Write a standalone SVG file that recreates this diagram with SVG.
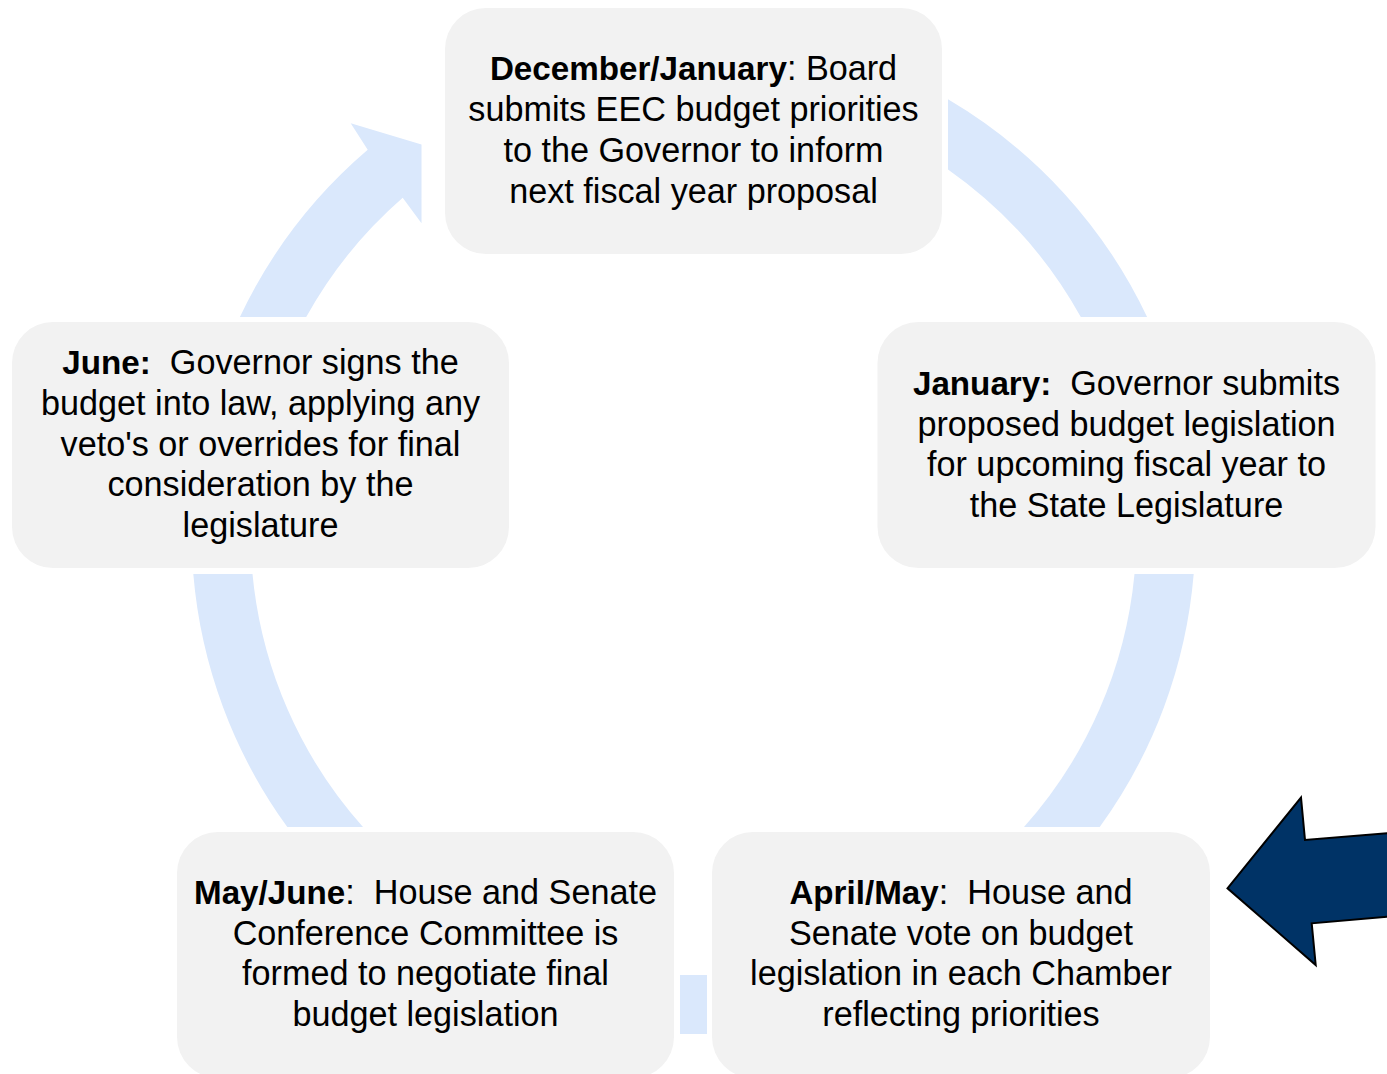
<svg xmlns="http://www.w3.org/2000/svg" width="1387" height="1074" viewBox="0 0 1387 1074">
  <style>
    .box { fill: #F2F2F2; }
    .ring { fill: #DAE8FC; }
    .label { font-family: "Liberation Sans", Arial, sans-serif; font-size: 34.2px; fill: #000000; text-anchor: middle; white-space: pre; }
    .b { font-weight: bold; font-size: 33.2px; }
    .pointer { fill: #003366; stroke: #000000; stroke-width: 2; stroke-linejoin: miter; }
  </style>

  <!-- Cycle ring pieces: circle centred at (693.5, 532), outer r 502, inner r 443 -->
  <g id="connectors">
    <!-- top box -> January -->
    <path class="ring" d="M 948,99.3 A 502 502 0 0 1 1147.1,317 L 1080.8,317 A 443 443 0 0 0 948,169.4 Z"/>
    <!-- January -> April/May -->
    <path class="ring" d="M 1193.7,574 A 502 502 0 0 1 1099.7,827 L 1024,827 A 443 443 0 0 0 1134.5,574 Z"/>
    <!-- April/May -> May/June -->
    <rect class="ring" x="680" y="975" width="27" height="59"/>
    <!-- May/June -> June -->
    <path class="ring" d="M 193.3,574 A 502 502 0 0 0 287.3,827 L 363,827 A 443 443 0 0 1 252.5,574 Z"/>
    <!-- June -> December/January, with arrowhead -->
    <path class="ring" d="M 367.7,149.8 L 350.7,123.3 L 421.5,144.5 L 421.5,223.3 L 402.7,197.8 A 443 443 0 0 0 306.2,317 L 239.9,317 A 502 502 0 0 1 367.7,149.8 Z"/>
  </g>

  <g id="node-dec-jan">
    <rect class="box" x="445" y="8" width="497" height="246" rx="41" ry="41"/>
    <text class="label" x="693.5" y="80"><tspan class="b">December/January</tspan>: Board</text>
    <text class="label" x="693.5" y="121">submits EEC budget priorities</text>
    <text class="label" x="693.5" y="162">to the Governor to inform</text>
    <text class="label" x="693.5" y="203">next fiscal year proposal</text>
  </g>

  <g id="node-january">
    <rect class="box" x="877.5" y="322" width="498" height="246" rx="41" ry="41"/>
    <text class="label" x="1126.5" y="395"><tspan class="b">January:</tspan>  Governor submits</text>
    <text class="label" x="1126.5" y="435.6">proposed budget legislation</text>
    <text class="label" x="1126.5" y="476.2">for upcoming fiscal year to</text>
    <text class="label" x="1126.5" y="516.8">the State Legislature</text>
  </g>

  <g id="node-april-may">
    <rect class="box" x="712" y="832" width="498" height="246" rx="41" ry="41"/>
    <text class="label" x="961" y="904"><tspan class="b">April/May</tspan>:  House and</text>
    <text class="label" x="961" y="944.7">Senate vote on budget</text>
    <text class="label" x="961" y="985.3">legislation in each Chamber</text>
    <text class="label" x="961" y="1026">reflecting priorities</text>
  </g>

  <g id="node-may-june">
    <rect class="box" x="177" y="832" width="497" height="246" rx="41" ry="41"/>
    <text class="label" x="425.5" y="904"><tspan class="b">May/June</tspan>:  House and Senate</text>
    <text class="label" x="425.5" y="944.7">Conference Committee is</text>
    <text class="label" x="425.5" y="985.3">formed to negotiate final</text>
    <text class="label" x="425.5" y="1026">budget legislation</text>
  </g>

  <g id="node-june">
    <rect class="box" x="12" y="322" width="497" height="246" rx="41" ry="41"/>
    <text class="label" x="260.5" y="374.3"><tspan class="b">June:</tspan>  Governor signs the</text>
    <text class="label" x="260.5" y="414.9">budget into law, applying any</text>
    <text class="label" x="260.5" y="455.5">veto's or overrides for final</text>
    <text class="label" x="260.5" y="496.1">consideration by the</text>
    <text class="label" x="260.5" y="536.7">legislature</text>
  </g>

  <!-- Current-stage pointer -->
  <g id="pointer">
    <path class="pointer" d="M 1227.5,888.3 L 1301,797.5 L 1305,840 L 1392,832.9 L 1392,916.3 L 1311.7,923.3 L 1315.7,965 Z"/>
  </g>
</svg>
